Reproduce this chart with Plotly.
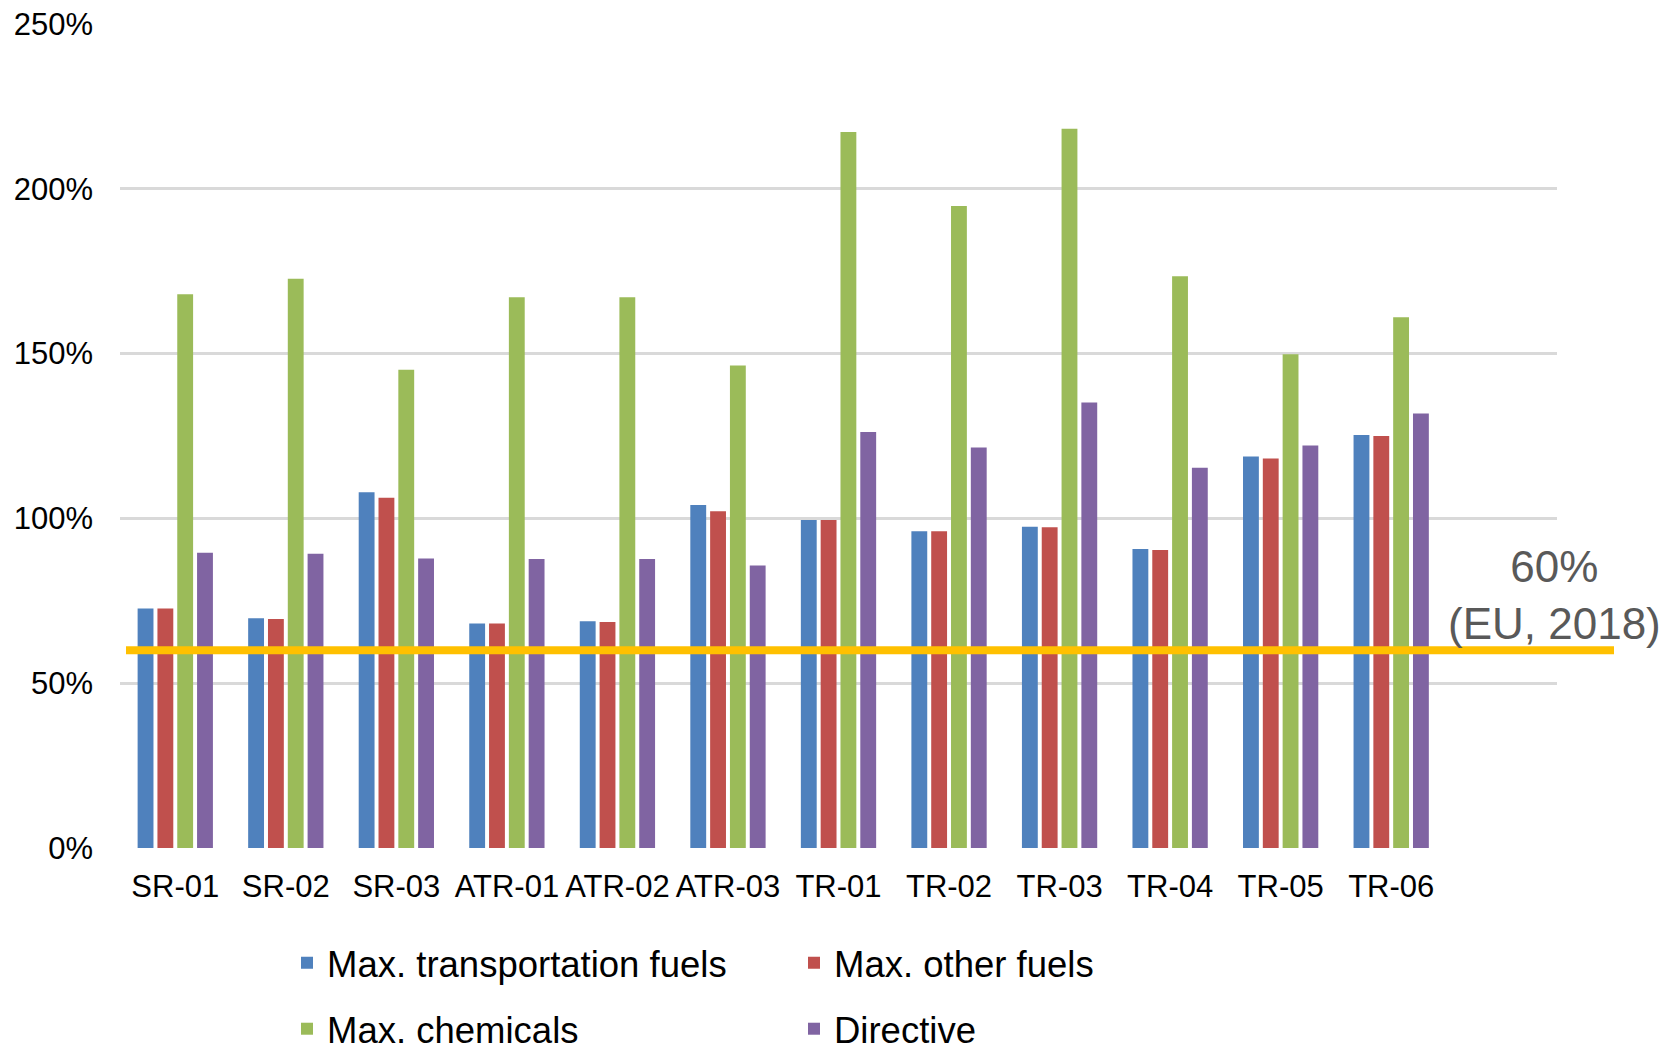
import plotly.graph_objects as go

# Reactor configurations on the category axis (one empty slot kept at the end)
categories = ["SR-01", "SR-02", "SR-03", "ATR-01", "ATR-02", "ATR-03",
              "TR-01", "TR-02", "TR-03", "TR-04", "TR-05", "TR-06"]
slot_labels = categories + [" "]

# Values in percent
max_transport_fuels = [72.7, 69.7, 107.9, 68.1, 68.8, 104.1, 99.5, 96.1, 97.5, 90.7, 118.8, 125.3]
max_other_fuels = [72.7, 69.5, 106.3, 68.1, 68.6, 102.2, 99.5, 96.1, 97.3, 90.4, 118.2, 125.0]
max_chemicals = [168.0, 172.7, 145.1, 167.1, 167.1, 146.4, 217.2, 194.8, 218.2, 173.5, 149.8, 161.0]
directive = [89.6, 89.3, 87.8, 87.7, 87.7, 85.7, 126.2, 121.5, 135.2, 115.4, 122.1, 131.8]

series_names = ["Max. transportation fuels", "Max. other fuels", "Max. chemicals", "Directive"]
series_values = [max_transport_fuels, max_other_fuels, max_chemicals, directive]
series_colors = ["#4F81BD", "#C0504D", "#9BBB59", "#8064A2"]

# EU 2018 target
eu_target = 60
eu_label = "60%<br>(EU, 2018)"

y_ticks = [0, 50, 100, 150, 200, 250]
y_tick_labels = [f"{v}%" for v in y_ticks]

W, H = 1680, 1052
M_L, M_R, M_T, M_B = 120, 123, 24, 204
plot_w = W - M_L - M_R
plot_h = H - M_T - M_B

FONT = "Liberation Sans, Arial, sans-serif"

fig = go.Figure()
legend_ids = ["legend", "legend2", "legend3", "legend4"]
for name, vals, color, lg in zip(series_names, series_values, series_colors, legend_ids):
    fig.add_trace(go.Bar(
        x=categories, y=vals, name=name,
        marker=dict(color=color, line=dict(width=0)),
        legend=lg, showlegend=True,
    ))


def px_x(px):
    return (px - M_L) / plot_w


def px_y(py):
    return (H - M_B - py) / plot_h


# one legend box per series: two columns, two rows under the axis
legend_pos = [(287, 963), (794, 963), (287, 1029), (794, 1029)]
legend_layout = {}
for lg, (lx, ly) in zip(legend_ids, legend_pos):
    legend_layout[lg] = dict(
        x=px_x(lx), y=px_y(ly), xanchor="left", yanchor="middle",
        orientation="h", bgcolor="rgba(0,0,0,0)", borderwidth=0,
        font=dict(family=FONT, size=36.5, color="#000000"),
    )

fig.update_layout(
    width=W, height=H,
    margin=dict(l=M_L, r=M_R, t=M_T, b=M_B, autoexpand=False),
    paper_bgcolor="white", plot_bgcolor="white",
    barmode="group", bargap=0.283, bargroupgap=0.2,
    font=dict(family=FONT, color="#000000"),
    showlegend=True,
    **legend_layout,
)

fig.update_xaxes(
    type="category", categoryorder="array", categoryarray=slot_labels,
    range=[-0.5, 12.5], showgrid=False, showline=False, zeroline=False,
    ticks="", tickfont=dict(size=31, color="#000000"), ticklabelstandoff=17,
)
fig.update_yaxes(
    range=[0, 250], tickvals=y_ticks, ticktext=y_tick_labels,
    showgrid=True, gridcolor="#D9D9D9", gridwidth=3,
    zeroline=False, showline=False, ticks="",
    tickfont=dict(size=31, color="#000000"), ticklabelstandoff=26,
)

# Target line running across the chart and past its right edge
fig.add_shape(
    type="line", xref="paper", yref="y",
    x0=px_x(126), x1=px_x(1614), y0=eu_target, y1=eu_target,
    line=dict(color="#FFC000", width=8), layer="above",
)
fig.add_annotation(
    xref="paper", yref="paper", x=px_x(1554), y=px_y(595),
    text=eu_label, showarrow=False, align="center",
    xanchor="center", yanchor="middle",
    font=dict(family=FONT, size=44, color="#595959"),
)

fig.write_html("out.html")
